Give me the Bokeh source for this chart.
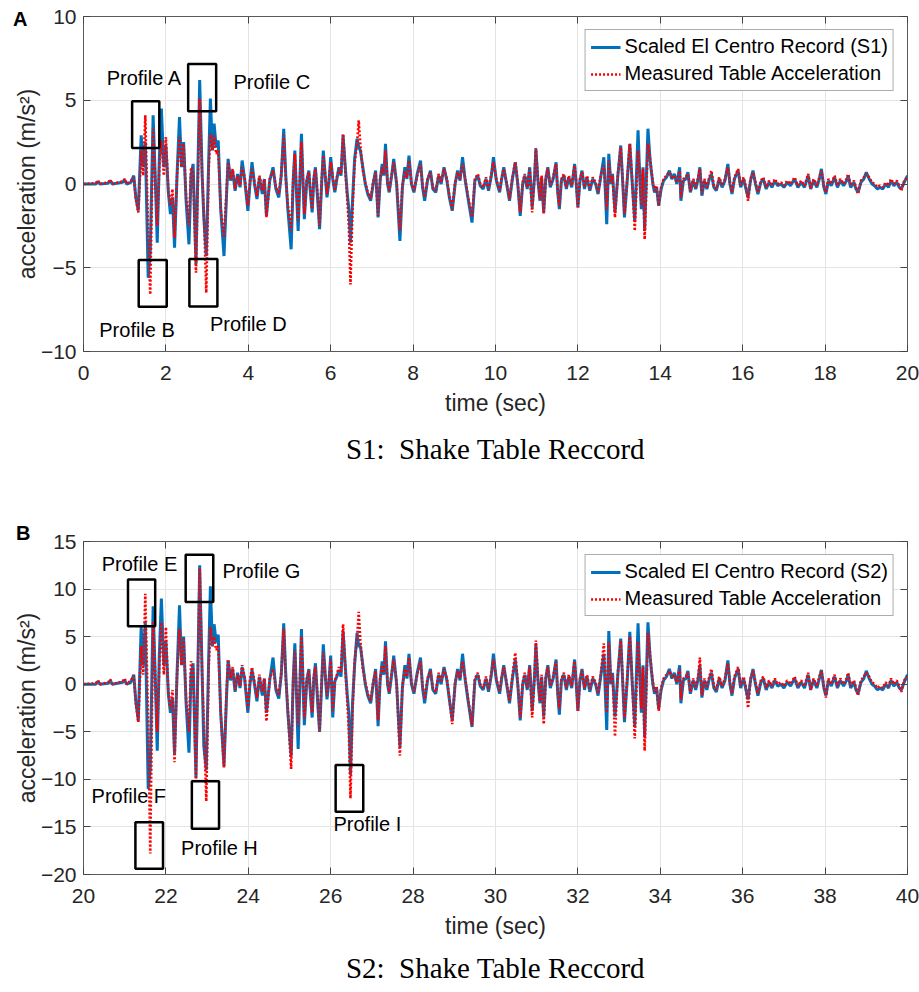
from bokeh.plotting import figure
from bokeh.models import Range1d, FixedTicker, ColumnDataSource, LinearAxis, Div, Title
from bokeh.layouts import column
from bokeh.embed import file_html
from bokeh.resources import INLINE
from bokeh.core.properties import value

# ---------------- Panel A (S1), time in seconds ----------------
S1_TIME = [
    0.00, 0.30, 0.35, 0.40, 0.60, 0.65, 0.70, 0.95, 1.00, 1.05,
    1.15, 1.22, 1.27, 1.33, 1.40, 1.45, 1.50, 1.57, 1.62, 1.69,
    1.74, 1.79, 1.84, 1.89, 1.95, 2.00, 2.06, 2.11, 2.16, 2.21,
    2.27, 2.33, 2.38, 2.43, 2.49, 2.56, 2.61, 2.66, 2.73, 2.82,
    2.88, 2.92, 2.98, 3.04, 3.08, 3.13, 3.17, 3.22, 3.27, 3.33,
    3.41, 3.47, 3.51, 3.57, 3.62, 3.68, 3.74, 3.80, 3.85, 3.91,
    3.99, 4.04, 4.09, 4.15, 4.21, 4.27, 4.34, 4.39, 4.44, 4.52,
    4.60, 4.67, 4.74, 4.80, 4.86, 4.91, 4.96, 5.04, 5.09, 5.13,
    5.17, 5.21, 5.29, 5.33, 5.36, 5.42, 5.47, 5.51, 5.55, 5.59,
    5.63, 5.68, 5.73, 5.78, 5.82, 5.87, 5.91, 5.96, 6.00, 6.05,
    6.10, 6.15, 6.20, 6.25, 6.30, 6.36, 6.40, 6.44, 6.48, 6.53,
    6.58, 6.64, 6.68, 6.72, 6.78, 6.84, 6.90, 6.97, 7.03, 7.09,
    7.15, 7.20, 7.25, 7.29, 7.33, 7.38, 7.42, 7.48, 7.53, 7.60,
    7.68, 7.74, 7.80, 7.85, 7.90, 7.96, 8.02, 8.10, 8.18, 8.23,
    8.28, 8.35, 8.42, 8.48, 8.55, 8.62, 8.68, 8.75, 8.82, 8.88,
    8.95, 9.02, 9.08, 9.14, 9.20, 9.26, 9.33, 9.43, 9.50, 9.57,
    9.63, 9.70, 9.77, 9.83, 9.90, 9.95, 10.02, 10.10, 10.15, 10.20,
    10.27, 10.34, 10.41, 10.48, 10.54, 10.60, 10.66, 10.71, 10.77, 10.83,
    10.89, 10.95, 10.98, 11.03, 11.08, 11.12, 11.17, 11.22, 11.27, 11.33,
    11.40, 11.47, 11.51, 11.55, 11.60, 11.66, 11.72, 11.78, 11.85, 11.92,
    11.96, 12.00, 12.05, 12.10, 12.16, 12.22, 12.29, 12.36, 12.43, 12.49,
    12.56, 12.63, 12.70, 12.75, 12.80, 12.84, 12.90, 12.97, 13.04, 13.09,
    13.13, 13.20, 13.26, 13.32, 13.38, 13.46, 13.50, 13.54, 13.58, 13.62,
    13.70, 13.75, 13.78, 13.82, 13.86, 13.91, 13.96, 14.02, 14.08, 14.15,
    14.22, 14.28, 14.34, 14.40, 14.47, 14.50, 14.56, 14.62, 14.67, 14.73,
    14.80, 14.86, 14.92, 14.96, 15.01, 15.07, 15.13, 15.19, 15.24, 15.30,
    15.36, 15.43, 15.50, 15.57, 15.64, 15.69, 15.74, 15.80, 15.89, 15.95,
    16.02, 16.08, 16.13, 16.19, 16.25, 16.31, 16.37, 16.44, 16.50, 16.57,
    16.64, 16.71, 16.78, 16.85, 16.93, 17.00, 17.08, 17.16, 17.26, 17.34,
    17.42, 17.50, 17.59, 17.65, 17.72, 17.80, 17.86, 17.91, 17.97, 18.02,
    18.08, 18.15, 18.23, 18.30, 18.37, 18.45, 18.52, 18.56, 18.62, 18.70,
    18.75, 18.80, 18.87, 18.94, 19.00, 19.07, 19.14, 19.20, 19.27, 19.33,
    19.40, 19.47, 19.54, 19.60, 19.67, 19.74, 19.80, 19.85, 19.92, 20.00,
]
S1_RECORD = [
    0.0, 0.0, 0.15, 0.0, 0.05, 0.2, 0.0, 0.1, 0.25, 0.0,
    0.1, 0.5, -0.8, -1.6, 2.9, 1.0, 2.5, -5.6, -4.0, 4.1,
    0.5, -3.5, 1.5, 4.5, 1.0, 2.3, -0.5, -1.8, -0.8, -3.8,
    0.5, 4.0, 1.0, 2.5, -1.0, -3.6, 0.5, 1.2, -4.8, 6.2,
    0.5, -2.0, -4.3, 1.5, 5.1, 2.0, 3.6, 2.2, 2.6, -1.5,
    -4.3, -0.8, 1.5, 0.2, 0.8, -0.4, 0.6, -0.2, 1.4, 0.3,
    -1.6, 0.0, 1.3, 0.0, -0.9, 0.4, -0.6, 0.3, -1.9, 0.2,
    1.0, -0.3, -0.8, 0.5, 3.3, 0.5, -1.5, -3.9, 0.2, 2.0,
    -0.5, -2.8, 3.0, 0.0, -2.1, 0.2, 0.8, -0.6, -1.7, 0.3,
    1.0, -0.8, -2.7, 0.0, 2.0, 0.4, -0.8, 0.2, 1.6, 0.3,
    -0.5, 0.3, 1.0, 0.5, 2.9, 0.8, -0.5, -1.5, -3.5, -1.0,
    1.5, 2.7, 2.2, 2.0, 1.0, 0.0, -0.6, -1.0, 0.0, 0.8,
    -2.0, 0.2, 1.2, 0.5, 2.4, 0.0, -0.5, 0.5, 1.5, 0.0,
    -3.4, -0.2, 1.0, 0.3, 1.7, 0.0, -0.5, 0.6, 1.4, -0.2,
    -1.0, 0.2, 0.8, -0.3, -0.5, 0.5, 0.0, 1.0, 0.2, -0.8,
    -1.6, 0.0, 0.8, 0.2, 1.6, 0.3, -0.8, -2.3, 0.2, 0.5,
    -0.1, -0.3, 0.3, -0.4, 0.5, 1.6, 0.2, -0.5, 0.3, 1.0,
    0.0, -1.0, 0.3, 1.3, 0.0, -1.9, 0.0, 0.5, -0.3, 1.0,
    -1.4, 0.5, 2.1, 0.2, -1.0, 0.4, -1.7, 0.3, 1.0, -0.2,
    0.3, 1.3, -0.5, -1.5, 0.2, 0.5, -0.3, 0.4, -0.2, 1.2,
    0.0, -1.4, 0.2, 0.8, -0.3, 0.4, -0.4, 0.3, 0.0, -0.6,
    0.5, 1.6, -2.4, 1.8, 0.0, 0.6, -1.7, 0.5, 2.3, 0.0,
    -2.0, 0.3, 2.4, 0.0, -2.2, 3.2, 0.5, -1.5, 1.0, -2.8,
    3.3, 1.5, 0.8, 0.0, -0.5, -0.2, -1.3, -0.3, 0.2, 0.4,
    0.8, 0.3, 0.6, 0.0, 1.0, -1.0, 0.2, 0.3, 0.7, -0.5,
    0.2, -0.3, 0.3, 1.0, -0.7, 0.2, -0.3, 0.3, 0.6, -0.2,
    -0.4, 0.3, -0.2, 0.2, 1.2, 0.0, -0.6, 0.3, 0.8, -0.2,
    0.3, -0.3, -0.8, 0.2, 0.8, 0.0, -0.6, 0.1, 0.3, -0.3,
    0.1, -0.2, 0.2, -0.1, 0.0, -0.2, 0.1, -0.1, 0.3, -0.2,
    0.1, -0.2, 0.5, -0.3, 0.2, -0.2, 0.3, 0.9, -0.2, -0.6,
    0.2, -0.1, 0.4, -0.2, 0.2, -0.1, 0.2, 0.5, -0.2, 0.1,
    -0.3, -0.5, 0.1, 0.3, 0.7, 0.3, 0.0, -0.1, -0.3, -0.2,
    -0.3, 0.0, -0.2, 0.2, -0.1, 0.1, -0.2, -0.3, 0.1, 0.5,
]
S1_TABLE = [
    0.0, 0.05, 0.2, 0.0, 0.1, 0.25, 0.0, 0.15, 0.3, 0.0,
    0.2, 0.4, -0.9, -1.7, 2.0, 0.5, 4.1, -3.0, -6.6, 3.3,
    0.5, -2.5, 1.0, 2.6, 0.5, 2.8, -0.5, -1.3, -0.3, -3.2,
    0.5, 2.8, 1.0, 2.4, -0.8, -2.5, 1.0, 0.8, -5.3, 5.1,
    0.5, -1.5, -6.5, 1.0, 3.0, 2.0, 2.9, 1.8, 2.0, -1.5,
    -3.2, -0.5, 1.3, 0.3, 0.9, -0.3, 0.5, -0.1, 1.0, 0.4,
    -1.3, 0.2, 0.9, 0.1, -0.7, 0.5, -0.4, 0.3, -2.0, 0.3,
    0.8, -0.2, -0.6, 0.6, 2.9, 0.3, -1.3, -2.8, 0.3, 1.8,
    -0.4, -2.2, 2.5, 0.2, -1.8, 0.3, 0.7, -0.5, -1.5, 0.4,
    0.9, -0.6, -2.5, 0.2, 1.7, 0.5, -0.6, 0.3, 1.3, 0.4,
    -0.4, 0.4, 0.9, 0.6, 3.0, 0.6, -0.8, -2.5, -6.0, -1.5,
    1.2, 2.4, 3.8, 2.3, 0.8, 0.1, -0.5, -0.9, 0.1, 0.7,
    -1.9, 0.3, 1.0, 0.6, 2.0, 0.1, -0.4, 0.6, 1.3, 0.1,
    -2.8, -0.1, 0.8, 0.4, 1.4, 0.1, -0.4, 0.5, 1.2, -0.1,
    -0.8, 0.3, 0.7, -0.2, -0.4, 0.6, 0.1, 0.9, 0.3, -0.7,
    -1.5, 0.1, 0.7, 0.3, 1.2, 0.4, -0.7, -2.0, 0.3, 0.6,
    0.0, -0.2, 0.4, -0.3, 0.6, 1.3, 0.3, -0.4, 0.4, 0.9,
    0.1, -0.9, 0.4, 1.3, 0.1, -1.7, 0.1, 0.6, -0.2, 0.9,
    -1.7, 0.6, 2.15, 0.3, -0.9, 0.5, -1.8, 0.4, 0.9, -0.1,
    0.4, 1.2, -0.4, -1.3, 0.3, 0.6, -0.2, 0.5, -0.1, 1.1,
    0.1, -1.4, 0.3, 0.7, -0.2, 0.5, -0.3, 0.4, 0.1, -0.5,
    0.6, 1.1, -1.5, 1.4, 0.1, 0.5, -2.0, 0.6, 2.2, 0.1,
    -1.8, 0.4, 2.4, 0.1, -2.8, 2.0, 0.6, -1.3, 0.9, -3.3,
    2.4, 1.6, 0.9, 0.1, -0.4, -0.1, -1.3, -0.2, 0.3, 0.5,
    0.7, 0.4, 0.5, 0.1, 0.8, -0.8, 0.3, 0.4, 0.6, -0.4,
    0.3, -0.2, 0.4, 0.9, -0.6, 0.3, -0.2, 0.4, 0.8, -0.1,
    -0.3, 0.4, -0.1, 0.3, 1.0, 0.1, -0.5, 0.4, 0.9, -0.1,
    0.4, -0.2, -1.0, 0.3, 0.7, 0.1, -0.5, 0.2, 0.4, -0.2,
    0.2, -0.1, 0.3, 0.0, 0.1, -0.1, 0.2, 0.0, 0.4, -0.1,
    0.2, -0.1, 0.6, -0.3, 0.3, -0.1, 0.4, 0.8, -0.1, -0.5,
    0.3, 0.0, 0.5, -0.1, 0.3, 0.0, 0.3, 0.6, -0.1, 0.2,
    -0.2, -0.6, 0.2, 0.4, 0.6, 0.4, 0.1, 0.0, -0.2, -0.1,
    -0.2, 0.1, -0.1, 0.3, 0.0, 0.2, -0.1, -0.4, 0.2, 0.4,
]

# ---------------- Panel B (S2) ----------------
S2_TIME = [
    20.00, 20.30, 20.35, 20.40, 20.60, 20.65, 20.70, 20.95, 21.00, 21.05,
    21.15, 21.22, 21.27, 21.33, 21.40, 21.45, 21.50, 21.57, 21.62, 21.69,
    21.74, 21.79, 21.84, 21.89, 21.95, 22.00, 22.06, 22.11, 22.16, 22.21,
    22.27, 22.33, 22.38, 22.43, 22.49, 22.56, 22.61, 22.66, 22.73, 22.82,
    22.88, 22.92, 22.98, 23.04, 23.08, 23.13, 23.17, 23.22, 23.27, 23.33,
    23.41, 23.47, 23.51, 23.57, 23.62, 23.68, 23.74, 23.80, 23.85, 23.91,
    23.99, 24.04, 24.09, 24.15, 24.21, 24.27, 24.34, 24.39, 24.44, 24.52,
    24.60, 24.67, 24.74, 24.80, 24.86, 24.91, 24.96, 25.04, 25.09, 25.13,
    25.17, 25.21, 25.29, 25.33, 25.36, 25.42, 25.47, 25.51, 25.55, 25.59,
    25.63, 25.68, 25.73, 25.78, 25.82, 25.87, 25.91, 25.96, 26.00, 26.05,
    26.10, 26.15, 26.20, 26.25, 26.30, 26.36, 26.40, 26.44, 26.48, 26.53,
    26.58, 26.64, 26.68, 26.72, 26.78, 26.84, 26.90, 26.97, 27.03, 27.09,
    27.15, 27.20, 27.25, 27.29, 27.33, 27.38, 27.42, 27.48, 27.53, 27.60,
    27.68, 27.74, 27.80, 27.85, 27.90, 27.96, 28.02, 28.10, 28.18, 28.23,
    28.28, 28.35, 28.42, 28.48, 28.55, 28.62, 28.68, 28.75, 28.82, 28.88,
    28.95, 29.02, 29.08, 29.14, 29.20, 29.26, 29.33, 29.43, 29.50, 29.57,
    29.63, 29.70, 29.77, 29.83, 29.90, 29.95, 30.02, 30.10, 30.15, 30.20,
    30.27, 30.34, 30.41, 30.48, 30.54, 30.60, 30.66, 30.71, 30.77, 30.83,
    30.89, 30.95, 30.98, 31.03, 31.08, 31.12, 31.17, 31.22, 31.27, 31.33,
    31.40, 31.47, 31.51, 31.55, 31.60, 31.66, 31.72, 31.78, 31.85, 31.92,
    31.96, 32.00, 32.05, 32.10, 32.16, 32.22, 32.29, 32.36, 32.43, 32.49,
    32.56, 32.63, 32.70, 32.75, 32.80, 32.84, 32.90, 32.97, 33.04, 33.09,
    33.13, 33.20, 33.26, 33.32, 33.38, 33.46, 33.50, 33.54, 33.58, 33.62,
    33.70, 33.75, 33.78, 33.82, 33.86, 33.91, 33.96, 34.02, 34.08, 34.15,
    34.22, 34.28, 34.34, 34.40, 34.47, 34.50, 34.56, 34.62, 34.67, 34.73,
    34.80, 34.86, 34.92, 34.96, 35.01, 35.07, 35.13, 35.19, 35.24, 35.30,
    35.36, 35.43, 35.50, 35.57, 35.64, 35.69, 35.74, 35.80, 35.89, 35.95,
    36.02, 36.08, 36.13, 36.19, 36.25, 36.31, 36.37, 36.44, 36.50, 36.57,
    36.64, 36.71, 36.78, 36.85, 36.93, 37.00, 37.08, 37.16, 37.26, 37.34,
    37.42, 37.50, 37.59, 37.65, 37.72, 37.80, 37.86, 37.91, 37.97, 38.02,
    38.08, 38.15, 38.23, 38.30, 38.37, 38.45, 38.52, 38.56, 38.62, 38.70,
    38.75, 38.80, 38.87, 38.94, 39.00, 39.07, 39.14, 39.20, 39.27, 39.33,
    39.40, 39.47, 39.54, 39.60, 39.67, 39.74, 39.80, 39.85, 39.92, 40.00,
]
S2_RECORD = [
    0.0, 0.0, 0.3, 0.0, 0.1, 0.4, 0.0, 0.2, 0.4, 0.0,
    0.2, 1.0, -1.8, -3.8, 6.0, 2.0, 6.5, -11.0, -9.0, 8.2,
    1.0, -7.0, 3.0, 9.0, 2.0, 4.5, -1.0, -3.0, -1.5, -7.3,
    1.0, 8.3, 2.0, 5.0, -2.0, -7.2, 1.0, 2.2, -9.8, 12.5,
    1.0, -6.5, -9.0, 3.0, 10.3, 4.0, 6.3, 4.4, 5.2, -3.0,
    -8.6, -1.5, 2.5, 0.4, 1.6, -0.8, 1.2, -0.4, 1.8, 0.6,
    -3.0, 0.0, 1.5, 0.0, -1.8, 0.8, -1.2, 0.6, -3.0, 0.4,
    2.8, -0.6, -1.5, 1.0, 6.4, 1.0, -3.0, -7.6, 0.4, 4.3,
    -1.0, -6.8, 5.8, 0.0, -4.3, 0.4, 1.6, -1.2, -3.5, 0.6,
    2.2, -1.6, -5.0, 0.0, 4.2, 0.8, -1.6, 0.4, 3.0, -3.5,
    0.3, 0.8, 1.5, 0.8, 5.6, 1.5, -1.0, -3.0, -9.5, -2.0,
    2.0, 5.4, 4.0, 4.0, 2.0, 0.0, -1.2, -2.0, 0.0, 1.6,
    -4.4, 0.4, 2.4, 1.0, 4.5, 0.0, -1.0, 1.0, 3.0, 0.0,
    -6.6, -0.4, 2.0, 0.6, 3.2, 0.0, -1.0, 1.2, 2.8, -0.4,
    -2.0, 0.4, 1.6, -0.6, -1.0, 1.0, 0.0, 1.8, 0.4, -1.6,
    -3.8, 0.0, 1.6, 0.4, 3.2, 0.6, -1.6, -4.5, 0.4, 1.0,
    -0.2, -0.6, 0.6, -0.8, 1.0, 3.2, 0.4, -1.0, 0.6, 2.0,
    0.0, -2.0, 0.6, 2.6, 0.0, -3.8, 0.0, 1.0, -0.6, 2.0,
    -2.8, 1.0, 4.2, 0.4, -2.0, 0.8, -3.4, 0.6, 2.0, -0.4,
    0.6, 2.6, -1.0, -3.2, 0.4, 1.0, -0.6, 0.8, -0.4, 2.6,
    0.0, -2.8, 0.4, 1.6, -0.6, 0.8, -0.8, 0.6, 0.0, -1.2,
    1.0, 3.2, -4.8, 5.6, 0.0, 1.2, -3.4, 1.0, 4.8, 0.0,
    -4.0, 0.6, 5.5, 0.0, -4.4, 6.4, 1.0, -3.0, 2.0, -5.6,
    6.5, 3.0, 1.6, 0.0, -1.0, -0.4, -2.6, -0.6, 0.4, 0.8,
    1.6, 0.6, 1.2, 0.0, 2.0, -2.0, 0.4, 0.6, 1.4, -1.0,
    0.4, -0.6, 0.6, 2.0, -1.4, 0.4, -0.6, 0.6, 1.2, -0.4,
    -0.8, 0.6, -0.4, 0.4, 2.5, 0.0, -1.2, 0.6, 1.6, -0.4,
    0.6, -0.6, -1.6, 0.4, 1.6, 0.0, -1.2, 0.2, 0.6, -0.6,
    0.2, -0.4, 0.4, -0.2, 0.0, -0.4, 0.2, -0.2, 0.6, -0.4,
    0.2, -0.4, 1.0, -0.6, 0.4, -0.4, 0.6, 1.5, -0.4, -1.2,
    0.4, -0.2, 0.8, -0.4, 0.4, -0.2, 0.4, 1.0, -0.4, 0.2,
    -0.6, -1.0, 0.2, 0.6, 1.4, 0.6, 0.0, -0.2, -0.6, -0.4,
    -0.6, 0.0, -0.4, 0.4, -0.2, 0.2, -0.4, -0.6, 0.2, 1.0,
]
S2_TABLE = [
    0.0, 0.1, 0.4, 0.0, 0.2, 0.5, 0.0, 0.3, 0.6, 0.0,
    0.4, 0.9, -2.0, -4.0, 4.0, 1.0, 9.5, -4.0, -17.8, 6.5,
    1.0, -5.0, 2.0, 6.5, 1.0, 6.0, -1.0, -2.6, -0.6, -8.2,
    1.0, 5.8, 2.0, 4.8, -1.6, -5.0, 2.4, 1.6, -10.0, 12.2,
    1.0, -4.0, -12.3, 2.0, 6.0, 4.0, 5.0, 3.6, 4.0, -3.0,
    -8.8, -1.0, 2.6, 0.6, 1.8, -0.6, 1.0, -0.2, 2.0, 0.8,
    -2.6, 0.4, 1.8, 0.2, -1.4, 1.0, -0.8, 0.6, -3.9, 0.6,
    1.6, -0.4, -1.2, 1.2, 5.8, 0.6, -2.6, -8.9, 0.6, 3.6,
    -0.8, -4.4, 5.0, 0.4, -3.6, 0.6, 1.4, -1.0, -3.0, 0.8,
    1.8, -1.2, -5.0, 0.4, 3.4, 1.0, -1.2, 0.6, 2.6, -2.8,
    0.4, 1.0, 1.8, 1.2, 6.3, 1.2, -1.6, -5.0, -12.0, -3.0,
    2.4, 4.8, 7.6, 4.6, 1.6, 0.2, -1.0, -1.8, 0.2, 1.4,
    -3.8, 0.6, 2.0, 1.2, 4.0, 0.2, -0.8, 1.2, 2.6, 0.2,
    -7.5, -0.2, 1.6, 0.8, 2.8, 0.2, -0.8, 1.0, 2.4, -0.2,
    -1.6, 0.6, 1.4, -0.4, -0.8, 1.2, 0.2, 1.6, 0.6, -1.4,
    -4.2, 0.2, 1.4, 0.6, 2.4, 0.8, -1.4, -4.3, 0.6, 1.2,
    0.0, -0.4, 0.8, -0.6, 1.2, 2.6, 0.6, -0.8, 0.8, 1.8,
    0.2, -1.8, 0.8, 3.3, 0.2, -3.5, 0.2, 1.2, -0.4, 1.8,
    -3.5, 1.2, 4.6, 0.6, -1.8, 1.0, -4.2, 0.8, 1.8, -0.2,
    0.8, 2.4, -0.8, -2.6, 0.6, 1.2, -0.4, 1.0, -0.2, 2.4,
    0.2, -2.8, 0.6, 1.4, -0.4, 1.0, -0.6, 0.8, 0.2, -1.0,
    1.2, 4.3, -3.0, 4.4, 0.2, 1.0, -5.5, 1.2, 4.6, 0.2,
    -3.6, 0.8, 5.0, 0.2, -5.7, 4.5, 1.2, -2.6, 1.8, -7.0,
    5.4, 3.2, 1.8, 0.2, -0.8, -0.2, -2.8, -0.4, 0.6, 1.0,
    1.4, 0.8, 1.0, 0.2, 1.6, -1.6, 0.6, 0.8, 1.2, -0.8,
    0.6, -0.4, 0.8, 2.8, -1.2, 0.6, -0.4, 0.8, 1.6, -0.2,
    -0.6, 0.8, -0.2, 0.6, 2.2, 0.2, -1.0, 0.8, 1.8, -0.2,
    0.8, -0.4, -2.5, 0.6, 1.4, 0.2, -1.0, 0.4, 0.8, -0.4,
    0.4, -0.2, 0.6, 0.0, 0.2, -0.2, 0.4, 0.0, 0.8, -0.2,
    0.4, -0.2, 1.2, -0.6, 0.6, -0.2, 0.8, 1.4, -0.2, -1.4,
    0.6, 0.0, 1.0, -0.2, 0.6, 0.0, 0.6, 1.2, -0.2, 0.4,
    -0.4, -1.2, 0.4, 0.8, 1.2, 0.8, 0.2, 0.0, -0.4, -0.2,
    -0.4, 0.2, -0.2, 0.6, 0.0, 0.4, -0.2, -0.8, 0.4, 0.8,
]

# tick labels
S1_XTICKS = [0, 2, 4, 6, 8, 10, 12, 14, 16, 18, 20]
S1_YTICKS = [-10, -5, 0, 5, 10]
S2_XTICKS = [20, 22, 24, 26, 28, 30, 32, 34, 36, 38, 40]
S2_YTICKS = [-20, -15, -10, -5, 0, 5, 10, 15]

# profile call-outs: name, box (left, right, bottom, top), label position
S1_PROFILES = ["Profile A", "Profile B", "Profile C", "Profile D"]
S1_BOXES = [(1.18, 1.84, 2.15, 4.94), (1.34, 2.02, -7.33, -4.54),
            (2.54, 3.22, 4.34, 7.17), (2.57, 3.25, -7.32, -4.48)]
S1_LABEL_POS = [(1.48, 6.3), (1.30, -8.7), (4.57, 6.06), (4.0, -8.35)]

S2_PROFILES = ["Profile E", "Profile F", "Profile G", "Profile H", "Profile I"]
S2_BOXES = [(21.08, 21.74, 6.1, 11.0), (21.26, 21.93, -19.4, -14.5),
            (22.48, 23.15, 8.65, 13.6), (22.63, 23.29, -15.2, -10.2),
            (26.12, 26.79, -13.4, -8.5)]
S2_LABEL_POS = [(21.36, 12.6), (21.1, -11.7), (24.32, 11.9), (23.3, -17.2), (26.89, -14.65)]

SANS = "Liberation Sans"
SERIF = "Liberation Serif"
TXT = "#262626"
W = 919


def panel(time, record, table, xr, yr, xticks, yticks, rec_name, names, boxes, lpos,
          caption, cap_standoff, height, b_top, b_bottom):
    p = figure(width=W, height=height, output_backend="svg", toolbar_location=None,
               x_range=Range1d(*xr), y_range=Range1d(*yr),
               min_border_left=83, min_border_right=12,
               min_border_top=b_top, min_border_bottom=b_bottom)
    p.outline_line_color = "#5a5a5a"
    p.outline_line_width = 1
    p.background_fill_color = "white"
    p.border_fill_color = "white"

    bottom = p.below[0]
    left = p.left[0]
    bottom.ticker = FixedTicker(ticks=xticks)
    left.ticker = FixedTicker(ticks=yticks)
    p.xgrid.ticker = FixedTicker(ticks=xticks)
    p.ygrid.ticker = FixedTicker(ticks=yticks)
    for g in (p.xgrid, p.ygrid):
        g.grid_line_color = "#e4e4e4"
        g.grid_line_width = 1

    # mirrored tick marks on the top and right edges (box style), no labels
    top = LinearAxis(ticker=FixedTicker(ticks=xticks),
                     major_label_overrides={t: "" for t in xticks})
    right = LinearAxis(ticker=FixedTicker(ticks=yticks),
                       major_label_overrides={t: "" for t in yticks})
    p.add_layout(top, "above")
    p.add_layout(right, "right")
    for ax in (bottom, left, top, right):
        ax.axis_line_color = None
        ax.major_tick_in = 7
        ax.major_tick_out = 0
        ax.major_tick_line_color = "#444444"
        ax.minor_tick_line_color = None
        ax.major_label_text_font = SANS
        ax.major_label_text_font_size = "21px"
        ax.major_label_text_color = TXT
        ax.axis_label_text_font = SANS
        ax.axis_label_text_font_size = "23px"
        ax.axis_label_text_font_style = "normal"
        ax.axis_label_text_color = TXT
    for ax in (top, right):
        ax.major_label_text_font_size = "1px"
        ax.major_label_standoff = 0
    bottom.axis_label = "time (sec)"
    left.axis_label = "acceleration (m/s²)"
    bottom.major_label_standoff = 14
    bottom.axis_label_standoff = 7
    left.major_label_standoff = 7
    left.axis_label_standoff = -2

    p.add_layout(Title(text=caption, align="center", text_font=SERIF,
                       text_font_size="29px", text_font_style="normal",
                       text_color="black", standoff=cap_standoff), "below")

    # profile boxes and labels
    bsrc = ColumnDataSource(dict(left=[b[0] for b in boxes], right=[b[1] for b in boxes],
                                 bottom=[b[2] for b in boxes], top=[b[3] for b in boxes]))
    lsrc = ColumnDataSource(dict(x=[q[0] for q in lpos], y=[q[1] for q in lpos], text=names))
    p.text(x="x", y="y", text="text", source=lsrc, text_font=value(SANS),
           text_font_size="20px", text_align="center", text_baseline="middle",
           text_color="black")

    p.line(time, record, line_color="#0072BD", line_width=3, legend_label=rec_name)
    p.line(time, table, line_color="#FF0000", line_width=2.6, line_dash="2 2",
           legend_label="Measured Table Acceleration")

    p.quad(left="left", right="right", bottom="bottom", top="top", source=bsrc,
           fill_color=None, line_color="black", line_width=2.5)

    lg = p.legend[0]
    lg.location = "top_right"
    lg.margin = 13
    lg.padding = 5
    lg.spacing = 4
    lg.label_standoff = 4
    lg.glyph_width = 30
    lg.glyph_height = 20
    lg.label_height = 22
    lg.label_text_font = SANS
    lg.label_text_font_size = "20px"
    lg.label_text_color = "black"
    lg.border_line_color = "#5a5a5a"
    lg.border_line_width = 1
    lg.background_fill_color = "white"
    lg.background_fill_alpha = 1
    return p


pA = panel(S1_TIME, S1_RECORD, S1_TABLE, (0, 20), (-10, 10), S1_XTICKS, S1_YTICKS,
           "Scaled El Centro Record (S1)", S1_PROFILES, S1_BOXES, S1_LABEL_POS,
           "S1:\u00a0 Shake Table Reccord", 24, height=481, b_top=16, b_bottom=130)
pB = panel(S2_TIME, S2_RECORD, S2_TABLE, (20, 40), (-20, 15), S2_XTICKS, S2_YTICKS,
           "Scaled El Centro Record (S2)", S2_PROFILES, S2_BOXES, S2_LABEL_POS,
           "S2:\u00a0 Shake Table Reccord", 17, height=511, b_top=60, b_bottom=117)

# panel letters, laid over the left margins of the two figures
letters_html = (
    "<div style=\"position:relative;width:40px;height:560px;"
    "font-family:'Liberation Sans',sans-serif;font-weight:bold;font-size:20px;"
    "line-height:22px;color:black;\">"
    "<span style=\"position:absolute;left:13px;top:8px;\">A</span>"
    "<span style=\"position:absolute;left:16px;top:522px;\">B</span>"
    "</div>"
)
letters = Div(text=letters_html, width=40, height=560, margin=(-992, 0, 0, 0))

layout = column(pA, pB, letters, spacing=0)
open("out.html", "w").write(file_html(layout, INLINE))
